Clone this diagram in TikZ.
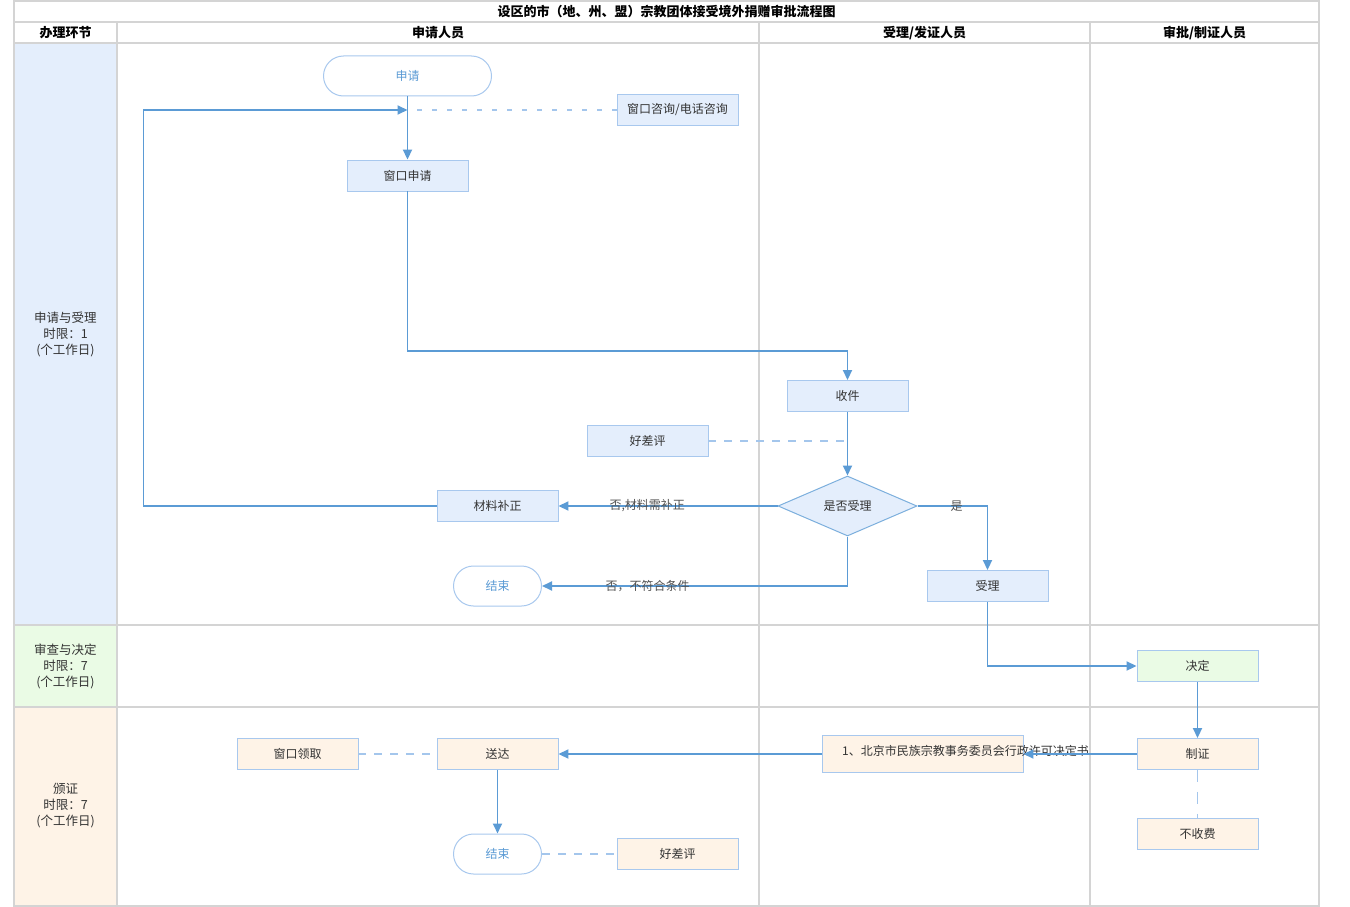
\documentclass[tikz,border=0pt]{standalone}
\usepackage{fontspec}
\setmainfont{Noto Sans CJK SC}
\usetikzlibrary{arrows.meta,shapes.geometric}
\definecolor{lineblue}{HTML}{5B9BD5}
\definecolor{dashblue}{HTML}{A4C6EC}
\definecolor{nodeborder}{HTML}{A8C8EE}
\definecolor{bluefill}{HTML}{E4EEFC}
\definecolor{greenfill}{HTML}{EAFBE5}
\definecolor{orangefill}{HTML}{FEF3E7}
\definecolor{gridgray}{HTML}{D4D4D4}
\definecolor{txt}{HTML}{333333}
\tikzset{
  grid/.style={draw=gridgray, line width=1.6pt},
  box/.style={draw=nodeborder, line width=0.9pt, minimum width=121pt, minimum height=31pt, inner sep=0pt, font=\fontsize{12}{14}\selectfont, text=txt},
  bbox/.style={box, fill=bluefill},
  gbox/.style={box, fill=greenfill},
  obox/.style={box, fill=orangefill},
  term/.style={draw=nodeborder, line width=1pt, fill=white, rounded corners=20pt, minimum width=88pt, minimum height=40pt, inner sep=0pt, font=\fontsize{12}{14}\selectfont, text=lineblue},
  decision/.style={diamond, draw=lineblue!80, line width=1pt, fill=bluefill, aspect=2.32, minimum width=139pt, minimum height=60pt, inner sep=0pt, font=\fontsize{12}{14}\selectfont, text=txt},
  flow/.style={draw=lineblue, line width=1.8pt, -{Triangle[length=10pt,width=9pt]}},
  dashline/.style={draw=dashblue, line width=1.8pt, dash pattern=on 8pt off 8pt},
  elabel/.style={font=\fontsize{12}{14}\selectfont, text=txt!85, inner sep=1pt},
  lane/.style={font=\fontsize{12.5}{16}\selectfont, text=txt, align=center},
  head/.style={font=\bfseries\fontsize{13}{15}\selectfont, text=black}
}
\begin{document}
\begin{tikzpicture}[x=1pt,y=-1pt]
\useasboundingbox (0,0) rectangle (1350,907);
\fill[white] (0,0) rectangle (1350,907);
% lane fills
\fill[bluefill] (14,43) rectangle (117,625);
\fill[greenfill] (14,625) rectangle (117,707);
\fill[orangefill] (14,707) rectangle (117,906);
% grid
\draw[grid] (14,1) rectangle (1319,906);
\draw[grid] (14,22) -- (1319,22);
\draw[grid] (14,43) -- (1319,43);
\draw[grid] (14,625) -- (1319,625);
\draw[grid] (14,707) -- (1319,707);
\draw[grid] (117,22) -- (117,906);
\draw[grid] (759,22) -- (759,906);
\draw[grid] (1090,22) -- (1090,906);
% headers
\node[head] (title) at (666.5,12) {设区的市（地、州、盟）宗教团体接受境外捐赠审批流程图};
\node[head] (h1) at (65.5,33) {办理环节};
\node[head] (h2) at (438,33) {申请人员};
\node[head] (h3) at (924.5,33) {受理/发证人员};
\node[head] (h4) at (1204.5,33) {审批/制证人员};
\node[lane] (l1) at (65.5,334) {申请与受理\\时限：1\\(个工作日)};
\node[lane] (l2) at (65.5,666) {审查与决定\\时限：7\\(个工作日)};
\node[lane] (l3) at (65.5,806) {颁证\\时限：7\\(个工作日)};
% nodes
\node[term, minimum width=168pt] (start) at (407.5,76) {申请};
\node[bbox] (consult) at (677.5,110) {窗口咨询/电话咨询};
\node[bbox] (apply) at (407.5,175.5) {窗口申请};
\node[bbox] (receive) at (847.5,396) {收件};
\node[bbox] (eval1) at (647.5,441) {好差评};
\node[decision] (decide) at (847.5,506) {是否受理};
\node[bbox] (supp) at (497.5,506) {材料补正};
\node[term] (end1) at (497.5,586) {结束};
\node[bbox] (accept) at (987.5,586) {受理};
\node[gbox] (jd) at (1197.5,666) {决定};
\node[obox] (zz) at (1197.5,754) {制证};
\node[obox] (nofee) at (1197.5,834) {不收费};
\node[obox, minimum width=201pt, minimum height=37pt] (doc) at (922.5,754) {};
\node[font=\fontsize{12}{14}\selectfont, text=txt, anchor=west, inner sep=0pt] (doctext) at (842,751) {1、北京市民族宗教事务委员会行政许可决定书};
\node[obox] (send) at (497.5,754) {送达};
\node[obox] (pickup) at (297.5,754) {窗口领取};
\node[term] (end2) at (497.5,854) {结束};
\node[obox] (eval2) at (677.5,854) {好差评};
% helper coordinates
\coordinate (join) at (407.5,110);
\coordinate (loopL) at (143.5,506);
\coordinate (loopT) at (143.5,110);
\coordinate (bendA) at (407.5,351);
\coordinate (bendB) at (847.5,351);
\coordinate (evalJ) at (847.5,441);
% connectors
\draw[flow] (start.south) -- (apply.north);
\draw[dashline, dash pattern=on 5pt off 10pt] (consult.west) -- (join);
\draw[flow] (supp.west) -- (loopL) -- (loopT) -- (join);
\draw[flow] (apply.south) -- (bendA) -- (bendB) -- (receive.north);
\draw[flow] (receive.south) -- (decide.north);
\draw[dashline] (eval1.east) -- (evalJ);
\draw[flow] (decide.west) -- node[elabel, pos=0.595] {否,材料需补正} (supp.east);
\draw[flow] (decide.south) |- node[elabel, pos=0.827] {否，不符合条件} (end1.east);
\draw[flow] (decide.east) -| node[elabel, pos=0.28] {是} (accept.north);
\draw[flow] (accept.south) |- (jd.west);
\draw[flow] (jd.south) -- (zz.north);
\draw[flow] (zz.west) -- (doc.east);
\draw[flow] (doc.west) -- (send.east);
\draw[dashline, dash pattern=on 12pt off 10pt] (zz.south) -- (nofee.north);
\draw[dashline] (pickup.east) -- (send.west);
\draw[flow] (send.south) -- (end2.north);
\draw[dashline] (end2.east) -- (eval2.west);
\end{tikzpicture}
\end{document}
